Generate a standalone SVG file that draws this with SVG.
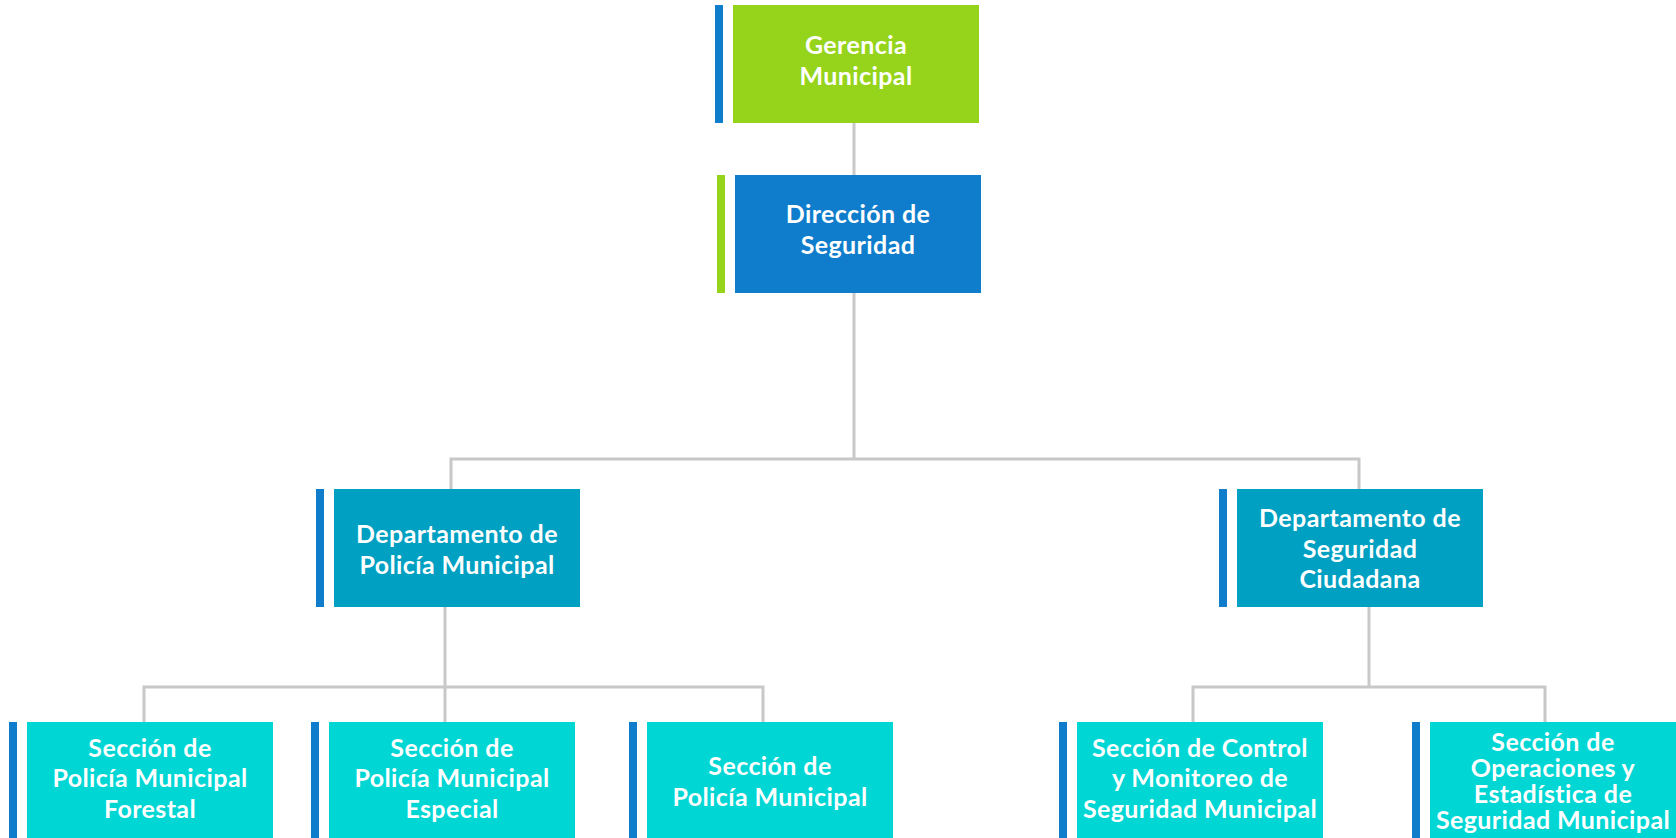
<svg xmlns="http://www.w3.org/2000/svg" width="1676" height="838" viewBox="0 0 1676 838">
<style>
.t{font-family:Lato,"Liberation Sans",sans-serif;font-weight:700;font-size:25px;letter-spacing:0.4px;fill:#ffffff;text-anchor:middle}
.c{fill:none;stroke:#c8c8c8;stroke-width:3}
.bl{fill:#0f7dcb}
.gr{fill:#95d41a}
.dp{fill:#00a0c2}
.sc{fill:#00d6d4}
</style>
<rect width="1676" height="838" fill="#ffffff"/>
<g id="connectors">
<path class="c" d="M854 123V175"/>
<path class="c" d="M854 293V459"/>
<path class="c" d="M451 489V459H1359V489"/>
<path class="c" d="M445 607V722"/>
<path class="c" d="M144 722V687H763V722"/>
<path class="c" d="M1369 607V687"/>
<path class="c" d="M1193 722V687H1545V722"/>
</g>
<g id="gerencia">
<rect class="bl" x="715" y="5" width="8" height="118"/>
<rect class="gr" x="733" y="5" width="246" height="118"/>
<text class="t" x="856" y="54">Gerencia</text>
<text class="t" x="856" y="85">Municipal</text>
</g>
<g id="direccion">
<rect class="gr" x="717" y="175" width="8" height="118"/>
<rect class="bl" x="735" y="175" width="246" height="118"/>
<text class="t" x="858" y="223">Dirección de</text>
<text class="t" x="858" y="253.5">Seguridad</text>
</g>
<g id="dept-policia">
<rect class="bl" x="316" y="489" width="8" height="118"/>
<rect class="dp" x="334" y="489" width="246" height="118"/>
<text class="t" x="457" y="543">Departamento de</text>
<text class="t" x="457" y="573.5">Policía Municipal</text>
</g>
<g id="dept-seguridad">
<rect class="bl" x="1219" y="489" width="8" height="118"/>
<rect class="dp" x="1237" y="489" width="246" height="118"/>
<text class="t" x="1360" y="527">Departamento de</text>
<text class="t" x="1360" y="558">Seguridad</text>
<text class="t" x="1360" y="588">Ciudadana</text>
</g>
<g id="sec-forestal">
<rect class="bl" x="9" y="722" width="8" height="118"/>
<rect class="sc" x="27" y="722" width="246" height="118"/>
<text class="t" x="150" y="757">Sección de</text>
<text class="t" x="150" y="787">Policía Municipal</text>
<text class="t" x="150" y="817.5">Forestal</text>
</g>
<g id="sec-especial">
<rect class="bl" x="311" y="722" width="8" height="118"/>
<rect class="sc" x="329" y="722" width="246" height="118"/>
<text class="t" x="452" y="757">Sección de</text>
<text class="t" x="452" y="787">Policía Municipal</text>
<text class="t" x="452" y="817.5">Especial</text>
</g>
<g id="sec-policia">
<rect class="bl" x="629" y="722" width="8" height="118"/>
<rect class="sc" x="647" y="722" width="246" height="118"/>
<text class="t" x="770" y="774.5">Sección de</text>
<text class="t" x="770" y="806">Policía Municipal</text>
</g>
<g id="sec-control">
<rect class="bl" x="1059" y="722" width="8" height="118"/>
<rect class="sc" x="1077" y="722" width="246" height="118"/>
<text class="t" x="1200" y="757">Sección de Control</text>
<text class="t" x="1200" y="787">y Monitoreo de</text>
<text class="t" x="1200" y="817.5">Seguridad Municipal</text>
</g>
<g id="sec-operaciones">
<rect class="bl" x="1412" y="722" width="8" height="118"/>
<rect class="sc" x="1430" y="722" width="246" height="118"/>
<text class="t" x="1553" y="751">Sección de</text>
<text class="t" x="1553" y="777">Operaciones y</text>
<text class="t" x="1553" y="803">Estadística de</text>
<text class="t" x="1553" y="829">Seguridad Municipal</text>
</g>
</svg>
